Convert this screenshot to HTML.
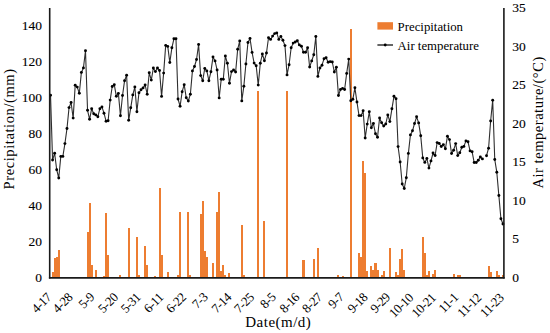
<!DOCTYPE html>
<html><head><meta charset="utf-8"><style>
html,body{margin:0;padding:0;background:#fff;}
svg{display:block;}
text{font-family:"Liberation Serif", serif;fill:#000;}
.tk{stroke:#000;stroke-width:0.12px;}
</style></head><body>
<svg width="550" height="333" viewBox="0 0 550 333">
<rect width="550" height="333" fill="#fff"/>
<g fill="#ED7D31" shape-rendering="crispEdges"><rect x="51.56" y="272.1" width="2.06" height="5.4"/><rect x="53.61" y="258.0" width="2.06" height="19.5"/><rect x="55.67" y="257.1" width="2.06" height="20.4"/><rect x="57.73" y="250.0" width="2.06" height="27.5"/><rect x="61.84" y="276.5" width="2.06" height="1.0"/><rect x="86.52" y="231.6" width="2.06" height="45.9"/><rect x="88.57" y="203.3" width="2.06" height="74.2"/><rect x="90.63" y="265.3" width="2.06" height="12.2"/><rect x="94.74" y="269.6" width="2.06" height="7.9"/><rect x="102.97" y="275.6" width="2.06" height="1.9"/><rect x="105.03" y="213.4" width="2.06" height="64.1"/><rect x="107.08" y="254.7" width="2.06" height="22.8"/><rect x="119.42" y="275.1" width="2.06" height="2.4"/><rect x="127.65" y="227.7" width="2.06" height="49.8"/><rect x="129.71" y="276.5" width="2.06" height="1.0"/><rect x="135.88" y="236.8" width="2.06" height="40.7"/><rect x="137.93" y="275.1" width="2.06" height="2.4"/><rect x="144.10" y="246.1" width="2.06" height="31.4"/><rect x="146.16" y="265.3" width="2.06" height="12.2"/><rect x="154.38" y="275.6" width="2.06" height="1.9"/><rect x="158.50" y="187.9" width="2.06" height="89.6"/><rect x="160.55" y="254.9" width="2.06" height="22.6"/><rect x="166.72" y="272.1" width="2.06" height="5.4"/><rect x="177.01" y="275.1" width="2.06" height="2.4"/><rect x="179.06" y="211.7" width="2.06" height="65.8"/><rect x="187.29" y="212.3" width="2.06" height="65.2"/><rect x="189.35" y="275.1" width="2.06" height="2.4"/><rect x="195.52" y="276.5" width="2.06" height="1.0"/><rect x="199.63" y="214.1" width="2.06" height="63.4"/><rect x="201.69" y="201.1" width="2.06" height="76.4"/><rect x="203.74" y="250.5" width="2.06" height="27.0"/><rect x="205.80" y="256.9" width="2.06" height="20.6"/><rect x="211.97" y="263.0" width="2.06" height="14.5"/><rect x="216.08" y="212.4" width="2.06" height="65.1"/><rect x="218.14" y="192.1" width="2.06" height="85.4"/><rect x="220.19" y="270.7" width="2.06" height="6.8"/><rect x="222.25" y="264.9" width="2.06" height="12.6"/><rect x="224.31" y="275.2" width="2.06" height="2.3"/><rect x="228.42" y="273.4" width="2.06" height="4.1"/><rect x="240.76" y="224.7" width="2.06" height="52.8"/><rect x="242.82" y="275.3" width="2.06" height="2.2"/><rect x="257.21" y="91.4" width="2.06" height="186.1"/><rect x="263.38" y="221.4" width="2.06" height="56.1"/><rect x="286.00" y="91.1" width="2.06" height="186.4"/><rect x="302.46" y="260.1" width="2.06" height="17.4"/><rect x="312.74" y="259.1" width="2.06" height="18.4"/><rect x="316.85" y="248.4" width="2.06" height="29.1"/><rect x="337.42" y="275.1" width="2.06" height="2.4"/><rect x="341.53" y="275.6" width="2.06" height="1.9"/><rect x="349.76" y="28.8" width="2.06" height="248.7"/><rect x="357.98" y="252.5" width="2.06" height="25.0"/><rect x="360.04" y="256.9" width="2.06" height="20.6"/><rect x="362.10" y="161.3" width="2.06" height="116.2"/><rect x="364.15" y="172.6" width="2.06" height="104.9"/><rect x="366.21" y="271.3" width="2.06" height="6.2"/><rect x="370.32" y="265.6" width="2.06" height="11.9"/><rect x="372.38" y="269.6" width="2.06" height="7.9"/><rect x="374.44" y="262.8" width="2.06" height="14.7"/><rect x="376.49" y="270.0" width="2.06" height="7.5"/><rect x="380.61" y="275.1" width="2.06" height="2.4"/><rect x="382.66" y="271.3" width="2.06" height="6.2"/><rect x="386.78" y="276.5" width="2.06" height="1.0"/><rect x="388.83" y="248.3" width="2.06" height="29.2"/><rect x="395.00" y="271.6" width="2.06" height="5.9"/><rect x="397.06" y="275.4" width="2.06" height="2.1"/><rect x="399.12" y="259.3" width="2.06" height="18.2"/><rect x="401.17" y="249.1" width="2.06" height="28.4"/><rect x="403.23" y="270.2" width="2.06" height="7.3"/><rect x="421.74" y="236.6" width="2.06" height="40.9"/><rect x="423.79" y="253.4" width="2.06" height="24.1"/><rect x="425.85" y="275.0" width="2.06" height="2.5"/><rect x="427.91" y="270.7" width="2.06" height="6.8"/><rect x="432.02" y="273.8" width="2.06" height="3.7"/><rect x="434.08" y="269.8" width="2.06" height="7.7"/><rect x="452.59" y="274.0" width="2.06" height="3.5"/><rect x="456.70" y="275.1" width="2.06" height="2.4"/><rect x="458.76" y="275.1" width="2.06" height="2.4"/><rect x="487.55" y="265.8" width="2.06" height="11.7"/><rect x="489.60" y="272.1" width="2.06" height="5.4"/><rect x="495.77" y="271.3" width="2.06" height="6.2"/><rect x="497.83" y="275.1" width="2.06" height="2.4"/><rect x="501.94" y="275.3" width="2.06" height="2.2"/></g>
<polyline points="50.53,95.3 52.58,160.0 54.64,153.2 56.70,169.7 58.75,178.0 60.81,156.4 62.87,156.4 64.92,143.6 66.98,128.5 69.04,107.6 71.09,102.5 73.15,118.1 75.21,85.3 77.26,87.1 79.32,93.3 81.38,72.4 83.43,67.9 85.49,50.8 87.55,110.3 89.60,119.3 91.66,108.7 93.72,113.7 95.77,114.9 97.83,116.7 99.89,108.7 101.94,106.9 104.00,113.2 106.06,121.2 108.11,120.7 110.17,100.1 112.23,86.5 114.28,84.7 116.34,96.3 118.39,93.4 120.45,115.8 122.51,95.5 124.56,80.8 126.62,75.3 128.68,120.3 130.73,107.8 132.79,94.9 134.85,86.9 136.90,111.7 138.96,92.7 141.02,89.8 143.07,87.9 145.13,85.0 147.19,94.2 149.24,72.8 151.30,80.1 153.36,68.0 155.41,71.6 157.47,68.0 159.53,70.5 161.58,96.4 163.64,73.1 165.70,45.4 167.75,46.4 169.81,62.5 171.87,47.8 173.92,38.8 175.98,38.8 178.04,99.0 180.09,106.3 182.15,91.7 184.20,84.7 186.26,97.8 188.32,101.0 190.37,94.2 192.43,70.9 194.49,66.5 196.54,59.5 198.60,44.5 200.66,75.6 202.71,80.7 204.77,68.4 206.83,70.9 208.88,80.7 210.94,71.7 213.00,56.9 215.05,60.9 217.11,70.0 219.17,97.9 221.22,79.3 223.28,79.3 225.34,56.0 227.39,63.3 229.45,83.2 231.51,71.6 233.56,70.0 235.62,72.0 237.68,49.3 239.73,40.9 241.79,100.9 243.85,86.2 245.90,64.0 247.96,42.5 250.01,38.4 252.07,52.4 254.13,63.1 256.18,65.8 258.24,85.1 260.30,63.3 262.35,54.0 264.41,60.7 266.47,53.0 268.52,37.7 270.58,39.4 272.64,36.1 274.69,33.6 276.75,32.9 278.81,39.4 280.86,36.4 282.92,40.2 284.98,45.6 287.03,74.9 289.09,64.7 291.15,47.8 293.20,43.1 295.26,42.0 297.32,40.7 299.37,44.9 301.43,46.2 303.49,52.2 305.54,52.2 307.60,47.8 309.65,67.0 311.71,60.9 313.77,54.8 315.82,36.5 317.88,76.4 319.94,68.0 321.99,65.2 324.05,58.7 326.11,57.8 328.16,62.2 330.22,61.6 332.28,62.0 334.33,72.0 336.39,67.2 338.45,95.5 340.50,89.5 342.56,88.4 344.62,89.5 346.67,73.4 348.73,59.1 350.79,100.8 352.84,99.3 354.90,87.8 356.96,102.0 359.01,115.6 361.07,115.6 363.13,110.7 365.18,138.0 367.24,124.1 369.30,111.8 371.35,127.8 373.41,123.5 375.46,133.7 377.52,137.3 379.58,118.0 381.63,122.7 383.69,126.0 385.75,124.0 387.80,114.9 389.86,121.6 391.92,108.8 393.97,96.3 396.03,98.7 398.09,146.6 400.14,162.0 402.20,184.0 404.26,188.5 406.31,177.7 408.37,153.4 410.43,134.9 412.48,130.8 414.54,123.5 416.60,116.8 418.65,122.9 420.71,135.7 422.77,157.9 424.82,162.4 426.88,158.4 428.94,168.1 430.99,160.9 433.05,153.0 435.11,155.5 437.16,142.6 439.22,143.5 441.27,146.5 443.33,144.6 445.39,148.8 447.44,136.3 449.50,139.6 451.56,153.5 453.61,150.2 455.67,143.6 457.73,155.6 459.78,152.7 461.84,147.2 463.90,146.4 465.95,140.9 468.01,141.8 470.07,150.9 472.12,151.8 474.18,162.5 476.24,162.5 478.29,160.2 480.35,157.0 482.41,158.9" fill="none" stroke="#2e2e2e" stroke-width="1.1" stroke-linejoin="round"/>
<polyline points="486.52,155.7 488.58,148.2 490.63,121.0 492.69,100.3 494.75,159.5 496.80,172.2 498.86,195.5 500.92,218.7 502.97,224.0" fill="none" stroke="#2e2e2e" stroke-width="1.1" stroke-linejoin="round"/>
<g fill="#000"><circle cx="50.53" cy="95.3" r="1.45"/><circle cx="52.58" cy="160.0" r="1.45"/><circle cx="54.64" cy="153.2" r="1.45"/><circle cx="56.70" cy="169.7" r="1.45"/><circle cx="58.75" cy="178.0" r="1.45"/><circle cx="60.81" cy="156.4" r="1.45"/><circle cx="62.87" cy="156.4" r="1.45"/><circle cx="64.92" cy="143.6" r="1.45"/><circle cx="66.98" cy="128.5" r="1.45"/><circle cx="69.04" cy="107.6" r="1.45"/><circle cx="71.09" cy="102.5" r="1.45"/><circle cx="73.15" cy="118.1" r="1.45"/><circle cx="75.21" cy="85.3" r="1.45"/><circle cx="77.26" cy="87.1" r="1.45"/><circle cx="79.32" cy="93.3" r="1.45"/><circle cx="81.38" cy="72.4" r="1.45"/><circle cx="83.43" cy="67.9" r="1.45"/><circle cx="85.49" cy="50.8" r="1.45"/><circle cx="87.55" cy="110.3" r="1.45"/><circle cx="89.60" cy="119.3" r="1.45"/><circle cx="91.66" cy="108.7" r="1.45"/><circle cx="93.72" cy="113.7" r="1.45"/><circle cx="95.77" cy="114.9" r="1.45"/><circle cx="97.83" cy="116.7" r="1.45"/><circle cx="99.89" cy="108.7" r="1.45"/><circle cx="101.94" cy="106.9" r="1.45"/><circle cx="104.00" cy="113.2" r="1.45"/><circle cx="106.06" cy="121.2" r="1.45"/><circle cx="108.11" cy="120.7" r="1.45"/><circle cx="110.17" cy="100.1" r="1.45"/><circle cx="112.23" cy="86.5" r="1.45"/><circle cx="114.28" cy="84.7" r="1.45"/><circle cx="116.34" cy="96.3" r="1.45"/><circle cx="118.39" cy="93.4" r="1.45"/><circle cx="120.45" cy="115.8" r="1.45"/><circle cx="122.51" cy="95.5" r="1.45"/><circle cx="124.56" cy="80.8" r="1.45"/><circle cx="126.62" cy="75.3" r="1.45"/><circle cx="128.68" cy="120.3" r="1.45"/><circle cx="130.73" cy="107.8" r="1.45"/><circle cx="132.79" cy="94.9" r="1.45"/><circle cx="134.85" cy="86.9" r="1.45"/><circle cx="136.90" cy="111.7" r="1.45"/><circle cx="138.96" cy="92.7" r="1.45"/><circle cx="141.02" cy="89.8" r="1.45"/><circle cx="143.07" cy="87.9" r="1.45"/><circle cx="145.13" cy="85.0" r="1.45"/><circle cx="147.19" cy="94.2" r="1.45"/><circle cx="149.24" cy="72.8" r="1.45"/><circle cx="151.30" cy="80.1" r="1.45"/><circle cx="153.36" cy="68.0" r="1.45"/><circle cx="155.41" cy="71.6" r="1.45"/><circle cx="157.47" cy="68.0" r="1.45"/><circle cx="159.53" cy="70.5" r="1.45"/><circle cx="161.58" cy="96.4" r="1.45"/><circle cx="163.64" cy="73.1" r="1.45"/><circle cx="165.70" cy="45.4" r="1.45"/><circle cx="167.75" cy="46.4" r="1.45"/><circle cx="169.81" cy="62.5" r="1.45"/><circle cx="171.87" cy="47.8" r="1.45"/><circle cx="173.92" cy="38.8" r="1.45"/><circle cx="175.98" cy="38.8" r="1.45"/><circle cx="178.04" cy="99.0" r="1.45"/><circle cx="180.09" cy="106.3" r="1.45"/><circle cx="182.15" cy="91.7" r="1.45"/><circle cx="184.20" cy="84.7" r="1.45"/><circle cx="186.26" cy="97.8" r="1.45"/><circle cx="188.32" cy="101.0" r="1.45"/><circle cx="190.37" cy="94.2" r="1.45"/><circle cx="192.43" cy="70.9" r="1.45"/><circle cx="194.49" cy="66.5" r="1.45"/><circle cx="196.54" cy="59.5" r="1.45"/><circle cx="198.60" cy="44.5" r="1.45"/><circle cx="200.66" cy="75.6" r="1.45"/><circle cx="202.71" cy="80.7" r="1.45"/><circle cx="204.77" cy="68.4" r="1.45"/><circle cx="206.83" cy="70.9" r="1.45"/><circle cx="208.88" cy="80.7" r="1.45"/><circle cx="210.94" cy="71.7" r="1.45"/><circle cx="213.00" cy="56.9" r="1.45"/><circle cx="215.05" cy="60.9" r="1.45"/><circle cx="217.11" cy="70.0" r="1.45"/><circle cx="219.17" cy="97.9" r="1.45"/><circle cx="221.22" cy="79.3" r="1.45"/><circle cx="223.28" cy="79.3" r="1.45"/><circle cx="225.34" cy="56.0" r="1.45"/><circle cx="227.39" cy="63.3" r="1.45"/><circle cx="229.45" cy="83.2" r="1.45"/><circle cx="231.51" cy="71.6" r="1.45"/><circle cx="233.56" cy="70.0" r="1.45"/><circle cx="235.62" cy="72.0" r="1.45"/><circle cx="237.68" cy="49.3" r="1.45"/><circle cx="239.73" cy="40.9" r="1.45"/><circle cx="241.79" cy="100.9" r="1.45"/><circle cx="243.85" cy="86.2" r="1.45"/><circle cx="245.90" cy="64.0" r="1.45"/><circle cx="247.96" cy="42.5" r="1.45"/><circle cx="250.01" cy="38.4" r="1.45"/><circle cx="252.07" cy="52.4" r="1.45"/><circle cx="254.13" cy="63.1" r="1.45"/><circle cx="256.18" cy="65.8" r="1.45"/><circle cx="258.24" cy="85.1" r="1.45"/><circle cx="260.30" cy="63.3" r="1.45"/><circle cx="262.35" cy="54.0" r="1.45"/><circle cx="264.41" cy="60.7" r="1.45"/><circle cx="266.47" cy="53.0" r="1.45"/><circle cx="268.52" cy="37.7" r="1.45"/><circle cx="270.58" cy="39.4" r="1.45"/><circle cx="272.64" cy="36.1" r="1.45"/><circle cx="274.69" cy="33.6" r="1.45"/><circle cx="276.75" cy="32.9" r="1.45"/><circle cx="278.81" cy="39.4" r="1.45"/><circle cx="280.86" cy="36.4" r="1.45"/><circle cx="282.92" cy="40.2" r="1.45"/><circle cx="284.98" cy="45.6" r="1.45"/><circle cx="287.03" cy="74.9" r="1.45"/><circle cx="289.09" cy="64.7" r="1.45"/><circle cx="291.15" cy="47.8" r="1.45"/><circle cx="293.20" cy="43.1" r="1.45"/><circle cx="295.26" cy="42.0" r="1.45"/><circle cx="297.32" cy="40.7" r="1.45"/><circle cx="299.37" cy="44.9" r="1.45"/><circle cx="301.43" cy="46.2" r="1.45"/><circle cx="303.49" cy="52.2" r="1.45"/><circle cx="305.54" cy="52.2" r="1.45"/><circle cx="307.60" cy="47.8" r="1.45"/><circle cx="309.65" cy="67.0" r="1.45"/><circle cx="311.71" cy="60.9" r="1.45"/><circle cx="313.77" cy="54.8" r="1.45"/><circle cx="315.82" cy="36.5" r="1.45"/><circle cx="317.88" cy="76.4" r="1.45"/><circle cx="319.94" cy="68.0" r="1.45"/><circle cx="321.99" cy="65.2" r="1.45"/><circle cx="324.05" cy="58.7" r="1.45"/><circle cx="326.11" cy="57.8" r="1.45"/><circle cx="328.16" cy="62.2" r="1.45"/><circle cx="330.22" cy="61.6" r="1.45"/><circle cx="332.28" cy="62.0" r="1.45"/><circle cx="334.33" cy="72.0" r="1.45"/><circle cx="336.39" cy="67.2" r="1.45"/><circle cx="338.45" cy="95.5" r="1.45"/><circle cx="340.50" cy="89.5" r="1.45"/><circle cx="342.56" cy="88.4" r="1.45"/><circle cx="344.62" cy="89.5" r="1.45"/><circle cx="346.67" cy="73.4" r="1.45"/><circle cx="348.73" cy="59.1" r="1.45"/><circle cx="350.79" cy="100.8" r="1.45"/><circle cx="352.84" cy="99.3" r="1.45"/><circle cx="354.90" cy="87.8" r="1.45"/><circle cx="356.96" cy="102.0" r="1.45"/><circle cx="359.01" cy="115.6" r="1.45"/><circle cx="361.07" cy="115.6" r="1.45"/><circle cx="363.13" cy="110.7" r="1.45"/><circle cx="365.18" cy="138.0" r="1.45"/><circle cx="367.24" cy="124.1" r="1.45"/><circle cx="369.30" cy="111.8" r="1.45"/><circle cx="371.35" cy="127.8" r="1.45"/><circle cx="373.41" cy="123.5" r="1.45"/><circle cx="375.46" cy="133.7" r="1.45"/><circle cx="377.52" cy="137.3" r="1.45"/><circle cx="379.58" cy="118.0" r="1.45"/><circle cx="381.63" cy="122.7" r="1.45"/><circle cx="383.69" cy="126.0" r="1.45"/><circle cx="385.75" cy="124.0" r="1.45"/><circle cx="387.80" cy="114.9" r="1.45"/><circle cx="389.86" cy="121.6" r="1.45"/><circle cx="391.92" cy="108.8" r="1.45"/><circle cx="393.97" cy="96.3" r="1.45"/><circle cx="396.03" cy="98.7" r="1.45"/><circle cx="398.09" cy="146.6" r="1.45"/><circle cx="400.14" cy="162.0" r="1.45"/><circle cx="402.20" cy="184.0" r="1.45"/><circle cx="404.26" cy="188.5" r="1.45"/><circle cx="406.31" cy="177.7" r="1.45"/><circle cx="408.37" cy="153.4" r="1.45"/><circle cx="410.43" cy="134.9" r="1.45"/><circle cx="412.48" cy="130.8" r="1.45"/><circle cx="414.54" cy="123.5" r="1.45"/><circle cx="416.60" cy="116.8" r="1.45"/><circle cx="418.65" cy="122.9" r="1.45"/><circle cx="420.71" cy="135.7" r="1.45"/><circle cx="422.77" cy="157.9" r="1.45"/><circle cx="424.82" cy="162.4" r="1.45"/><circle cx="426.88" cy="158.4" r="1.45"/><circle cx="428.94" cy="168.1" r="1.45"/><circle cx="430.99" cy="160.9" r="1.45"/><circle cx="433.05" cy="153.0" r="1.45"/><circle cx="435.11" cy="155.5" r="1.45"/><circle cx="437.16" cy="142.6" r="1.45"/><circle cx="439.22" cy="143.5" r="1.45"/><circle cx="441.27" cy="146.5" r="1.45"/><circle cx="443.33" cy="144.6" r="1.45"/><circle cx="445.39" cy="148.8" r="1.45"/><circle cx="447.44" cy="136.3" r="1.45"/><circle cx="449.50" cy="139.6" r="1.45"/><circle cx="451.56" cy="153.5" r="1.45"/><circle cx="453.61" cy="150.2" r="1.45"/><circle cx="455.67" cy="143.6" r="1.45"/><circle cx="457.73" cy="155.6" r="1.45"/><circle cx="459.78" cy="152.7" r="1.45"/><circle cx="461.84" cy="147.2" r="1.45"/><circle cx="463.90" cy="146.4" r="1.45"/><circle cx="465.95" cy="140.9" r="1.45"/><circle cx="468.01" cy="141.8" r="1.45"/><circle cx="470.07" cy="150.9" r="1.45"/><circle cx="472.12" cy="151.8" r="1.45"/><circle cx="474.18" cy="162.5" r="1.45"/><circle cx="476.24" cy="162.5" r="1.45"/><circle cx="478.29" cy="160.2" r="1.45"/><circle cx="480.35" cy="157.0" r="1.45"/><circle cx="482.41" cy="158.9" r="1.45"/><circle cx="486.52" cy="155.7" r="1.45"/><circle cx="488.58" cy="148.2" r="1.45"/><circle cx="490.63" cy="121.0" r="1.45"/><circle cx="492.69" cy="100.3" r="1.45"/><circle cx="494.75" cy="159.5" r="1.45"/><circle cx="496.80" cy="172.2" r="1.45"/><circle cx="498.86" cy="195.5" r="1.45"/><circle cx="500.92" cy="218.7" r="1.45"/><circle cx="502.97" cy="224.0" r="1.45"/></g>
<path d="M49.7 8.0 V278.6 M503.9 8.0 V278.6" fill="none" stroke="#1a1a1a" stroke-width="1.6"/>
<path d="M48.9 277.85 H504.7" fill="none" stroke="#1a1a1a" stroke-width="1.8"/>
<text x="41.9" y="281.8" font-size="13.5" text-anchor="end" class="tk">0</text>
<text x="41.9" y="245.9" font-size="13.5" text-anchor="end" class="tk">20</text>
<text x="41.9" y="209.9" font-size="13.5" text-anchor="end" class="tk">40</text>
<text x="41.9" y="174.0" font-size="13.5" text-anchor="end" class="tk">60</text>
<text x="41.9" y="138.1" font-size="13.5" text-anchor="end" class="tk">80</text>
<text x="41.9" y="102.1" font-size="13.5" text-anchor="end" class="tk">100</text>
<text x="41.9" y="66.2" font-size="13.5" text-anchor="end" class="tk">120</text>
<text x="41.9" y="30.3" font-size="13.5" text-anchor="end" class="tk">140</text>
<text x="512.2" y="281.8" font-size="13.5" class="tk">0</text>
<text x="512.2" y="243.3" font-size="13.5" class="tk">5</text>
<text x="512.2" y="204.8" font-size="13.5" class="tk">10</text>
<text x="512.2" y="166.3" font-size="13.5" class="tk">15</text>
<text x="512.2" y="127.8" font-size="13.5" class="tk">20</text>
<text x="512.2" y="89.3" font-size="13.5" class="tk">25</text>
<text x="512.2" y="50.8" font-size="13.5" class="tk">30</text>
<text x="512.2" y="12.3" font-size="13.5" class="tk">35</text>
<text transform="translate(36.67,313.76) rotate(-45)" font-size="13" letter-spacing="-0.5">4-17</text>
<text transform="translate(57.85,313.76) rotate(-45)" font-size="13" letter-spacing="-0.5">4-28</text>
<text transform="translate(83.83,309.16) rotate(-45)" font-size="13" letter-spacing="-0.5">5-9</text>
<text transform="translate(103.21,313.76) rotate(-45)" font-size="13" letter-spacing="-0.5">5-20</text>
<text transform="translate(125.90,313.76) rotate(-45)" font-size="13" letter-spacing="-0.5">5-31</text>
<text transform="translate(148.92,313.42) rotate(-45)" font-size="13" letter-spacing="-0.5">6-11</text>
<text transform="translate(171.26,313.76) rotate(-45)" font-size="13" letter-spacing="-0.5">6-22</text>
<text transform="translate(197.24,309.16) rotate(-45)" font-size="13" letter-spacing="-0.5">7-3</text>
<text transform="translate(216.63,313.76) rotate(-45)" font-size="13" letter-spacing="-0.5">7-14</text>
<text transform="translate(239.31,313.76) rotate(-45)" font-size="13" letter-spacing="-0.5">7-25</text>
<text transform="translate(265.29,309.16) rotate(-45)" font-size="13" letter-spacing="-0.5">8-5</text>
<text transform="translate(284.67,313.76) rotate(-45)" font-size="13" letter-spacing="-0.5">8-16</text>
<text transform="translate(307.35,313.76) rotate(-45)" font-size="13" letter-spacing="-0.5">8-27</text>
<text transform="translate(333.33,309.16) rotate(-45)" font-size="13" letter-spacing="-0.5">9-7</text>
<text transform="translate(352.72,313.76) rotate(-45)" font-size="13" letter-spacing="-0.5">9-18</text>
<text transform="translate(375.40,313.76) rotate(-45)" font-size="13" letter-spacing="-0.5">9-29</text>
<text transform="translate(394.19,318.36) rotate(-45)" font-size="13" letter-spacing="-0.5">10-10</text>
<text transform="translate(416.87,318.36) rotate(-45)" font-size="13" letter-spacing="-0.5">10-21</text>
<text transform="translate(443.79,313.42) rotate(-45)" font-size="13" letter-spacing="-0.5">11-1</text>
<text transform="translate(462.58,318.01) rotate(-45)" font-size="13" letter-spacing="-0.5">11-12</text>
<text transform="translate(485.26,318.01) rotate(-45)" font-size="13" letter-spacing="-0.5">11-23</text>
<text transform="translate(13.5,128.9) rotate(-90)" font-size="14.5" letter-spacing="0.6" text-anchor="middle">Precipitation/(mm)</text>
<text transform="translate(542.6,122.4) rotate(-90)" font-size="14.5" letter-spacing="0.55" text-anchor="middle">Air temperature/(°C)</text>
<text x="278.3" y="326.5" font-size="15" letter-spacing="0.5" text-anchor="middle">Date(m/d)</text>
<rect x="377.4" y="22.2" width="15.6" height="7.4" fill="#ED7D31"/>
<text x="397.6" y="30.5" font-size="12.8">Precipitation</text>
<line x1="377.4" y1="45" x2="393" y2="45" stroke="#111" stroke-width="1.3"/><circle cx="385.2" cy="45" r="1.45"/>
<text x="397.6" y="50" font-size="12.8">Air temperature</text>
</svg></body></html>
